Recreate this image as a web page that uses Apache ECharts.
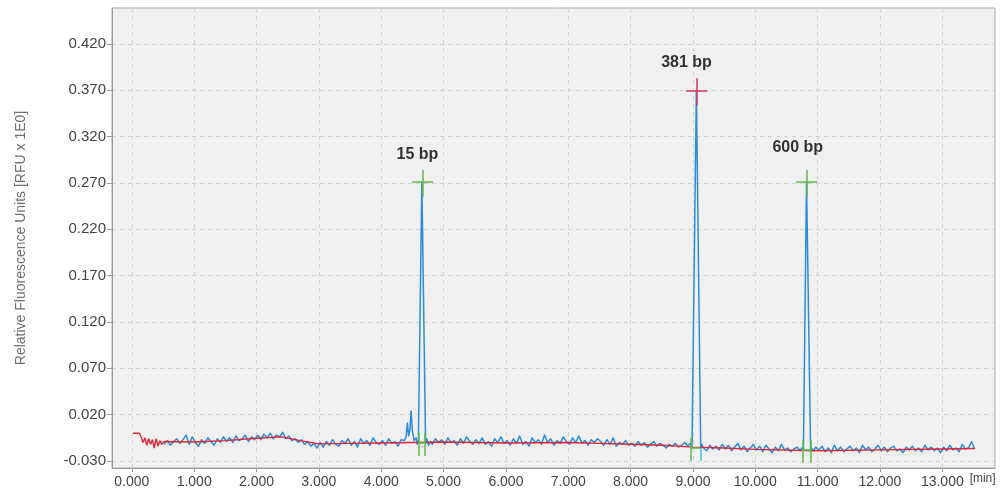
<!DOCTYPE html>
<html>
<head>
<meta charset="utf-8">
<script src="https://cdn.jsdelivr.net/npm/echarts@6/dist/echarts.min.js"></script>
<style>
  html, body { margin: 0; padding: 0; background: #ffffff; }
  #chart { width: 1007px; height: 495px; }
</style>
</head>
<body>
<div id="chart"></div>
<script>
// Electropherogram: fluorescence signal vs migration time

// Tick values on both axes
const xTicks = [0, 1, 2, 3, 4, 5, 6, 7, 8, 9, 10, 11, 12, 13];
const yTicks = [-0.03, 0.02, 0.07, 0.12, 0.17, 0.22, 0.27, 0.32, 0.37, 0.42];

// Raw signal, sampled every 0.05 min starting at 0.52 min
const traceStart = 0.52;
const traceStep = 0.05;
const traceValues = [
  -0.012, -0.008, -0.013, -0.009, -0.006, -0.011, -0.007, -0.002, -0.012, -0.004,
  -0.010, -0.014, -0.007, -0.011, -0.005, -0.009, -0.013, -0.006, -0.010, -0.004,
  -0.009, -0.005, -0.010, -0.003, -0.008, -0.006, -0.002, -0.009, -0.004, -0.007,
  -0.002, -0.007, -0.001, -0.005, 0.000, -0.006, -0.002, -0.004, 0.001, -0.006,
  -0.003, -0.008, -0.006, -0.010, -0.007, -0.012, -0.009, -0.014, -0.011, -0.016,
  -0.010, -0.015, -0.009, -0.013, -0.007, -0.012, -0.014, -0.008, -0.011, -0.006,
  -0.013, -0.009, -0.015, -0.006, -0.011, -0.008, -0.013, -0.005, -0.010, -0.012,
  -0.008, -0.013, -0.006, -0.011, -0.009, -0.014, -0.007, -0.010, -0.006, -0.009,
  -0.006, -0.010, -0.008, -0.009, -0.011, -0.007, -0.012, -0.006, -0.010, -0.007,
  -0.012, -0.005, -0.010, -0.008, -0.013, -0.006, -0.011, -0.004, -0.009, -0.012,
  -0.007, -0.011, -0.005, -0.012, -0.009, -0.014, -0.006, -0.010, -0.004, -0.011,
  -0.008, -0.013, -0.006, -0.011, -0.003, -0.012, -0.009, -0.014, -0.005, -0.010,
  -0.007, -0.012, -0.002, -0.010, -0.006, -0.013, -0.008, -0.011, -0.004, -0.009,
  -0.012, -0.005, -0.010, -0.003, -0.011, -0.008, -0.013, -0.007, -0.010, -0.006,
  -0.009, -0.013, -0.007, -0.012, -0.005, -0.014, -0.010, -0.012, -0.008, -0.013,
  -0.011, -0.014, -0.009, -0.013, -0.010, -0.015, -0.012, -0.009, -0.014, -0.011,
  -0.013, -0.016, -0.012, -0.014, -0.011, -0.015, -0.013, -0.010, -0.014, -0.015,
  -0.015, -0.015, -0.015, -0.015, -0.019, -0.013, -0.017, -0.014, -0.018, -0.012,
  -0.017, -0.013, -0.019, -0.015, -0.011, -0.018, -0.014, -0.020, -0.016, -0.012,
  -0.018, -0.014, -0.020, -0.013, -0.017, -0.021, -0.015, -0.019, -0.012, -0.018,
  -0.016, -0.020, -0.017, -0.015, -0.019, -0.019, -0.019, -0.019, -0.019, -0.015,
  -0.018, -0.014, -0.020, -0.016, -0.021, -0.013, -0.019, -0.015, -0.020, -0.017,
  -0.014, -0.019, -0.016, -0.021, -0.013, -0.018, -0.015, -0.020, -0.017, -0.013,
  -0.019, -0.015, -0.020, -0.016, -0.014, -0.019, -0.017, -0.021, -0.015, -0.018,
  -0.014, -0.019, -0.016, -0.020, -0.013, -0.018, -0.015, -0.019, -0.016, -0.021,
  -0.015, -0.019, -0.013, -0.018, -0.016, -0.020, -0.012, -0.017, -0.016, -0.009,
  -0.017
];

// Finely sampled signal around each peak (these replace the regular samples in their span)
const peak15Times  = [4.37, 4.40, 4.42, 4.44, 4.46, 4.48, 4.50, 4.53, 4.56, 4.58, 4.596, 4.652, 4.712, 4.73, 4.76, 4.79];
const peak15Values = [-0.008, -0.004, 0.011, -0.003, 0.004, 0.024, 0.002, -0.008, -0.005, -0.012, -0.009, 0.271, -0.011, -0.006, -0.013, -0.009];
const peak381Times  = [8.93, 8.95, 8.985, 9.055, 9.125, 9.14, 9.17];
const peak381Values = [-0.013, -0.011, -0.015, 0.370, -0.016, -0.012, -0.016];
const peak600Times  = [10.72, 10.745, 10.772, 10.822, 10.888, 10.90, 10.93];
const peak600Values = [-0.019, -0.016, -0.019, 0.271, -0.020, -0.016, -0.019];

// Fitted baseline
const baseTimes  = [0.02, 0.12, 0.15, 0.18, 0.21, 0.24, 0.27, 0.30, 0.33, 0.36, 0.39, 0.42, 0.45, 0.48, 0.52,
                    1.0, 1.5, 2.0, 2.4, 2.7, 3.0, 3.5, 4.0, 4.5, 5.0, 6.0, 7.0, 7.5, 8.0, 8.5, 9.0, 9.5,
                    10.0, 11.0, 12.0, 13.0, 13.52];
const baseValues = [0.000, 0.000, -0.004, -0.010, -0.005, -0.013, -0.006, -0.012, -0.007, -0.016, -0.006, -0.014, -0.008, -0.012, -0.009,
                    -0.0095, -0.008, -0.0055, -0.004, -0.008, -0.0115, -0.011, -0.0105, -0.010, -0.0095, -0.0105, -0.010, -0.011, -0.012, -0.013, -0.015, -0.016,
                    -0.0175, -0.019, -0.018, -0.017, -0.0165];

// Identified peaks
const peakNames   = ['15 bp', '381 bp', '600 bp'];
const peakTimes   = [4.662, 9.058, 10.826];
const peakHeights = [0.271, 0.370, 0.271];
const peakColors  = ['#63b84a', '#d5365f', '#63b84a'];

// Integration boundaries of each peak: start time, end time, baseline level
const peakStarts   = [4.603, 8.965, 10.765];
const peakEnds     = [4.706, 9.120, 10.886];
const peakBaseline = [-0.0106, -0.016, -0.018];

const peakSegments = [[peak15Times, peak15Values], [peak381Times, peak381Values], [peak600Times, peak600Values]];

function buildTrace() {
  const pts = [];
  for (let i = 0; i < traceValues.length; i++) {
    const t = +(traceStart + i * traceStep).toFixed(3);
    const covered = peakSegments.some(s => t >= s[0][0] && t <= s[0][s[0].length - 1]);
    if (!covered) pts.push([t, traceValues[i]]);
  }
  peakSegments.forEach(s => s[0].forEach((t, k) => pts.push([t, s[1][k]])));
  pts.sort((a, b) => a[0] - b[0]);
  return pts;
}

const trace = buildTrace();
const baseline = baseTimes.map((t, i) => [t, baseValues[i]]);

// Cross marks at peak apexes and boundary ticks at peak bases
const markSegments = [];
peakTimes.forEach((t, i) => {
  const c = peakColors[i];
  const h = peakHeights[i];
  markSegments.push([{ coord: [t - 0.17, h], lineStyle: { color: c } }, { coord: [t + 0.17, h] }]);
  markSegments.push([{ coord: [t, h + 0.013], lineStyle: { color: c } }, { coord: [t, h - 0.016] }]);
});
const green = '#5fb84a';
peakStarts.forEach((s, i) => {
  const e = peakEnds[i];
  const b = peakBaseline[i];
  const endColor = i === 1 ? '#3fc6d6' : green;
  markSegments.push([{ coord: [s, b], lineStyle: { color: green } }, { coord: [e, b] }]);
  markSegments.push([{ coord: [s, b + 0.011], lineStyle: { color: green } }, { coord: [s, b - 0.014] }]);
  markSegments.push([{ coord: [e, i === 1 ? b : b + 0.011], lineStyle: { color: endColor } }, { coord: [e, b - 0.014] }]);
});

const chart = echarts.init(document.getElementById('chart'), null, { renderer: 'canvas' });

const gridLine = { show: true, lineStyle: { color: '#d2d2d2', width: 1, type: [4, 4] } };
const font = 'Liberation Sans, Arial, sans-serif';

chart.setOption({
  animation: false,
  backgroundColor: '#ffffff',
  grid: {
    left: 112, right: 12, top: 8, bottom: 27,
    show: true, backgroundColor: '#f0f0f0', borderColor: '#a8a8a8', borderWidth: 1
  },
  xAxis: {
    type: 'value',
    min: -0.318,
    max: 13.845,
    name: '[min]',
    nameLocation: 'end',
    nameGap: -28,
    nameTextStyle: { color: '#444', fontSize: 12, fontFamily: font, verticalAlign: 'top', padding: [5, 0, 0, 0] },
    axisLine: { show: true, onZero: false, lineStyle: { color: '#9a9a9a', width: 1 } },
    axisTick: { show: true, length: 4, customValues: xTicks, lineStyle: { color: '#9a9a9a' } },
    axisLabel: {
      customValues: xTicks,
      color: '#444', fontSize: 14, fontFamily: font, margin: 7,
      formatter: v => v.toFixed(3)
    },
    splitLine: gridLine
  },
  yAxis: {
    type: 'value',
    min: -0.03755,
    max: 0.4588,
    name: 'Relative Fluorescence Units [RFU x 1E0]',
    nameLocation: 'middle',
    nameGap: 84,
    nameTextStyle: { color: '#707070', fontSize: 14, fontFamily: font },
    axisLine: { show: true, onZero: false, lineStyle: { color: '#9a9a9a', width: 1 } },
    axisTick: { show: true, length: 5, customValues: yTicks, lineStyle: { color: '#9a9a9a' } },
    axisLabel: {
      customValues: yTicks,
      color: '#444', fontSize: 15, fontFamily: font, margin: 6,
      formatter: v => v.toFixed(3)
    },
    splitLine: gridLine
  },
  series: [
    {
      name: 'Signal',
      type: 'line',
      data: trace,
      showSymbol: false,
      symbol: 'none',
      lineStyle: { color: '#2a8cdb', width: 1.5, join: 'round' },
      z: 2
    },
    {
      name: 'Baseline',
      type: 'line',
      data: baseline,
      showSymbol: false,
      symbol: 'none',
      lineStyle: { color: '#e0243c', width: 1.4 },
      z: 3,
      markLine: {
        silent: true,
        symbol: 'none',
        label: { show: false },
        lineStyle: { width: 1.5, type: 'solid' },
        emphasis: { disabled: true },
        data: markSegments
      }
    },
    {
      name: 'Peaks',
      type: 'scatter',
      symbolSize: 0,
      z: 5,
      data: peakNames.map((n, i) => ({
        value: [peakTimes[i], peakHeights[i]],
        name: n
      })),
      label: {
        show: true,
        position: 'inside',
        formatter: p => p.name,
        color: '#000', fontSize: 16, fontWeight: 'bold', fontFamily: font
      },
      labelLayout: p => {
        const offsets = [[-5, -27], [-10, -28], [-9, -34]];
        const o = offsets[p.dataIndex];
        return { dx: o[0], dy: o[1] };
      }
    }
  ]
});
</script>
</body>
</html>
